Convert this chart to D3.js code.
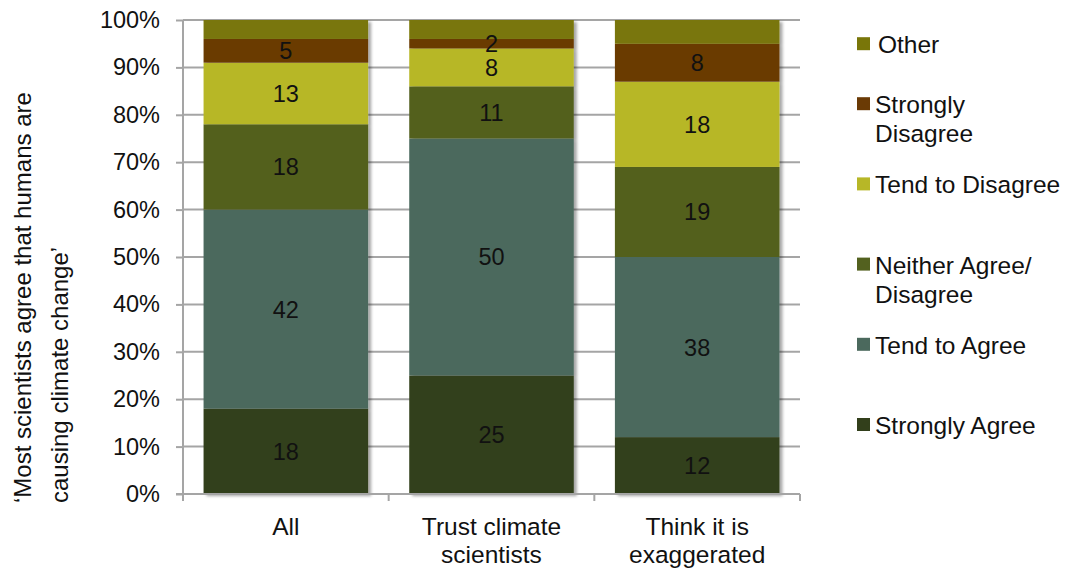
<!DOCTYPE html>
<html>
<head>
<meta charset="utf-8">
<script src="https://cdn.jsdelivr.net/npm/d3@7"></script>
<style>
  html, body { margin: 0; padding: 0; background: #fff; }
  svg { display: block; font-family: "Liberation Sans", Arial, sans-serif; }
</style>
</head>
<body>
<svg id="chart" width="1067" height="570"></svg>
<script>
// Survey responses by group (percent of respondents)
const categories = ["All", "Trust climate scientists", "Think it is exaggerated"];
const categoryLabelLines = [["All"], ["Trust climate", "scientists"], ["Think it is", "exaggerated"]];

const seriesKeys = ["stronglyAgree", "tendToAgree", "neither", "tendToDisagree", "stronglyDisagree", "other"];
const seriesLegendLines = [
  ["Strongly Agree"],
  ["Tend to Agree"],
  ["Neither Agree/", "Disagree"],
  ["Tend to Disagree"],
  ["Strongly", "Disagree"],
  ["Other"]
];
const seriesColors = ["#323f1b", "#4b695d", "#53611f", "#b7b727", "#6a3a05", "#797609"];

const stronglyAgree    = [18, 25, 12];
const tendToAgree      = [42, 50, 38];
const neither          = [18, 11, 19];
const tendToDisagree   = [13, 8, 18];
const stronglyDisagree = [5, 2, 8];
const other            = [4, 4, 5];
// Values printed inside each segment ("Other" carries no label)
const labelledSeries = [true, true, true, true, true, false];

const yTicks = [0, 10, 20, 30, 40, 50, 60, 70, 80, 90, 100];
const yTitleLines = ["\u2018Most scientists agree that humans are", "causing climate change\u2019"];

// Table for d3.stack
const rows = categories.map((c, i) => ({
  category: c,
  stronglyAgree: stronglyAgree[i],
  tendToAgree: tendToAgree[i],
  neither: neither[i],
  tendToDisagree: tendToDisagree[i],
  stronglyDisagree: stronglyDisagree[i],
  other: other[i]
}));

const svg = d3.select("#chart");
const plot = { left: 183, right: 800, top: 20, bottom: 494 };
const gridColor = "#a5a5a5";

const x = d3.scaleBand()
  .domain(categories)
  .range([plot.left, plot.right])
  .paddingInner(0.2)
  .paddingOuter(0.1);

const y = d3.scaleLinear().domain([0, 100]).range([plot.bottom, plot.top]);

// Drop shadow for the bars
const defs = svg.append("defs");
const shadow = defs.append("filter").attr("id", "barShadow")
  .attr("x", "-5%").attr("y", "-5%").attr("width", "115%").attr("height", "115%");
shadow.append("feDropShadow")
  .attr("dx", 3).attr("dy", 2).attr("stdDeviation", 1.6)
  .attr("flood-color", "#000").attr("flood-opacity", 0.35);

// Horizontal gridlines
svg.append("g")
  .selectAll("line")
  .data(yTicks.filter(d => d > 0))
  .join("line")
  .attr("x1", plot.left).attr("x2", plot.right)
  .attr("y1", d => y(d)).attr("y2", d => y(d))
  .attr("stroke", gridColor).attr("stroke-width", 2);

// Stacked bars
const stack = d3.stack().keys(seriesKeys);
const stacked = stack(rows);

const barGroups = svg.append("g")
  .selectAll("g")
  .data(categories)
  .join("g")
  .attr("filter", "url(#barShadow)");

barGroups.each(function(cat, ci) {
  const g = d3.select(this);
  stacked.forEach((layer, si) => {
    const seg = layer[ci];
    g.append("rect")
      .attr("x", x(cat))
      .attr("width", x.bandwidth())
      .attr("y", y(seg[1]))
      .attr("height", y(seg[0]) - y(seg[1]))
      .attr("fill", seriesColors[si]);
  });
});

// Segment value labels
const labelGroup = svg.append("g")
  .attr("font-size", 23.5)
  .attr("fill", "#111")
  .attr("text-anchor", "middle");

stacked.forEach((layer, si) => {
  if (!labelledSeries[si]) return;
  layer.forEach((seg, ci) => {
    labelGroup.append("text")
      .attr("x", x(categories[ci]) + x.bandwidth() / 2)
      .attr("y", y((seg[0] + seg[1]) / 2))
      .attr("dy", "0.36em")
      .text(seg[1] - seg[0]);
  });
});

// Y axis
const yAxis = d3.axisLeft(y)
  .tickValues(yTicks)
  .tickFormat(d => d + "%")
  .tickSize(7)
  .tickPadding(16);

const yAxisG = svg.append("g")
  .attr("transform", `translate(${plot.left},0)`)
  .call(yAxis);
yAxisG.select(".domain").attr("stroke", gridColor).attr("stroke-width", 2)
  .attr("d", `M0,${plot.top}V${plot.bottom}`);
yAxisG.selectAll(".tick line").attr("stroke", gridColor).attr("stroke-width", 2);
yAxisG.selectAll(".tick text")
  .attr("font-size", 23.5)
  .attr("font-family", "Liberation Sans, Arial, sans-serif")
  .attr("fill", "#111");

// X axis baseline with category separators
const xAxisG = svg.append("g");
xAxisG.append("line")
  .attr("x1", plot.left - 7).attr("x2", plot.right)
  .attr("y1", plot.bottom).attr("y2", plot.bottom)
  .attr("stroke", gridColor).attr("stroke-width", 2);
const bounds = categories.map(c => x(c) - x.step() * x.paddingInner() / 2);
bounds[0] = plot.left;
bounds.push(plot.right);
xAxisG.selectAll("line.sep")
  .data(bounds)
  .join("line")
  .attr("class", "sep")
  .attr("x1", d => d).attr("x2", d => d)
  .attr("y1", plot.bottom).attr("y2", plot.bottom + 7)
  .attr("stroke", gridColor).attr("stroke-width", 2);

// Category labels
const catLabels = svg.append("g")
  .attr("font-size", 24.5)
  .attr("fill", "#111")
  .attr("text-anchor", "middle");
categories.forEach((c, i) => {
  const t = catLabels.append("text")
    .attr("x", x(c) + x.bandwidth() / 2)
    .attr("y", 535);
  categoryLabelLines[i].forEach((line, li) => {
    t.append("tspan")
      .attr("x", x(c) + x.bandwidth() / 2)
      .attr("dy", li === 0 ? 0 : 28)
      .text(line);
  });
});

// Y axis title (two rotated lines)
const yTitle = svg.append("g")
  .attr("font-size", 24)
  .attr("fill", "#111");
const yTitleBaselines = [31, 68];
yTitleLines.forEach((line, i) => {
  yTitle.append("text")
    .attr("transform", `translate(${yTitleBaselines[i]},503) rotate(-90)`)
    .attr("text-anchor", "start")
    .text(line);
});

// Legend (top entry first, following the stack order)
const legendOrder = d3.range(seriesKeys.length).reverse();
const legendRowStep = 80.2;
const legendBottomSquareY = 418;
const legend = svg.append("g").attr("font-size", 24.5).attr("fill", "#111");
legendOrder.forEach((si, row) => {
  // bottom five entries spaced evenly; the top entry sits closer
  const fromBottom = seriesKeys.length - 1 - row;
  let sy = legendBottomSquareY - fromBottom * legendRowStep;
  if (row === 0) sy = legendBottomSquareY - (fromBottom - 1) * legendRowStep - 60;
  legend.append("rect")
    .attr("x", 857).attr("y", sy)
    .attr("width", 13).attr("height", 13)
    .attr("fill", seriesColors[si]);
  const t = legend.append("text").attr("x", row === 0 ? 878 : 875).attr("y", sy + 16);
  seriesLegendLines[si].forEach((line, li) => {
    t.append("tspan")
      .attr("x", row === 0 ? 878 : 875)
      .attr("dy", li === 0 ? 0 : 29)
      .text(line);
  });
});
</script>
</body>
</html>
